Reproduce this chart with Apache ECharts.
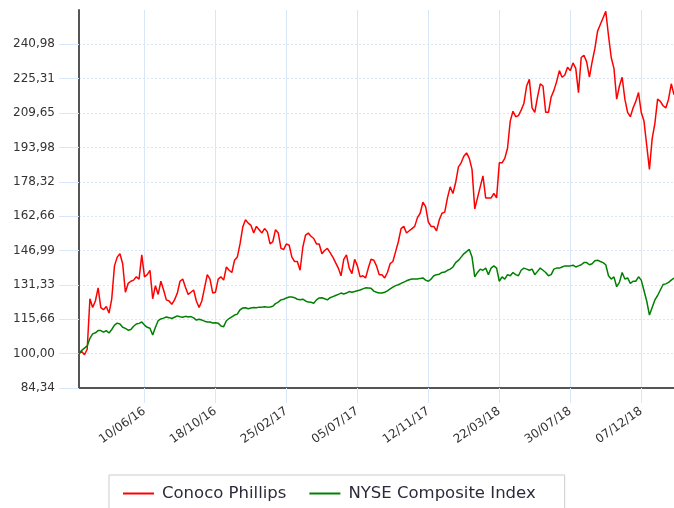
<!DOCTYPE html>
<html>
<head>
<meta charset="utf-8">
<script src="https://cdn.jsdelivr.net/npm/echarts@6/dist/echarts.min.js"></script>
<style>
  html, body { margin: 0; padding: 0; background: #fff; }
  #main { width: 674px; height: 508px; }
</style>
</head>
<body>
<div id="main"></div>
<script>
// series start 11/02/16, one point every 5 days
const startDay = Date.UTC(2016, 1, 11);
const stepDays = 5;

const xTickLabels = ['10/06/16', '18/10/16', '25/02/17', '05/07/17', '12/11/17', '22/03/18', '30/07/18', '07/12/18'];
const yTicks = [84.336, 100, 115.664, 131.328, 146.992, 162.656, 178.32, 193.984, 209.648, 225.312, 240.976];

const conoco = [
  100, 101, 99.5, 102, 125, 121, 124, 130, 121, 120,
  121.5, 118.5, 125, 140, 144, 145.5, 141, 128, 132, 133,
  133.5, 135, 134, 145, 135, 136, 138, 125, 131, 127,
  133, 129, 124.5, 124, 122.5, 124.5, 127.5, 133, 134, 130.3,
  127, 128, 129, 124, 121, 124, 130, 136, 134, 127.6,
  128, 134, 135, 133.5, 139.5, 138, 137, 142.6, 144, 150,
  157.7, 161, 159.5, 158.5, 155, 158, 156.5, 155, 157, 155.5,
  150, 151, 156.5, 155, 148, 147.5, 150, 149.4, 144, 142,
  142, 138, 148.5, 154, 155, 153.5, 152.5, 150, 150, 145.5,
  147, 148, 146, 144, 141.5, 139, 135.5, 143, 145, 139,
  136.5, 143, 140, 135, 135.5, 134.5, 139, 143, 142.6, 140,
  136, 136, 134.5, 137, 141, 142, 146.5, 151, 157, 158,
  155, 156, 157, 158, 162, 164, 169, 167, 160, 158,
  158, 156, 161, 164, 164.5, 171, 176, 173, 178, 185,
  187, 190, 191.5, 189, 184, 166, 171, 176, 181, 171,
  171, 171, 173, 171, 187, 187, 189, 193.6, 206, 210.5,
  208, 208.5, 211, 214, 222, 225, 212, 210, 217, 223,
  222, 210, 210, 217, 220, 224, 229, 226, 227, 230.5,
  229, 232.5, 230, 219, 235, 236, 233, 226, 233, 239,
  247, 250, 253, 256, 245, 235, 230, 216, 222, 226,
  216, 210, 208, 212, 215, 219, 210, 206, 195, 184,
  198, 205, 216, 215, 213, 212, 216, 223, 218
];

const nyse = [
  100, 101.5, 102.5, 103.5, 107, 109, 109.5, 110.5, 110.5, 109.8,
  110.5, 109.4, 111, 113, 113.9, 113.5, 112, 111.5, 110.7, 111,
  112.5, 113.5, 113.8, 114.4, 113, 112, 111.6, 108.5, 112, 115,
  115.8, 116.2, 116.7, 116.4, 116, 116.6, 117.2, 116.8, 116.6, 117,
  116.7, 116.9, 116.3, 115.3, 115.7, 115.3, 114.8, 114.4, 114.4, 114,
  114.1, 113.9, 112.6, 112.3, 115, 116, 116.8, 117.6, 118, 120,
  120.8, 120.9, 120.5, 120.8, 121, 120.9, 121.2, 121.2, 121.4, 121.2,
  121.3, 121.6, 122.8, 123.5, 124.5, 124.8, 125.4, 125.8, 125.8, 125.5,
  124.8, 124.6, 124.8, 124, 123.5, 123.4, 123, 124.5, 125.4, 125.5,
  125, 124.5, 125.5, 126, 126.5, 127, 127.6, 127.2, 127.6, 128.3,
  128, 128.3, 128.7, 129, 129.5, 130, 129.9, 129.8, 128.5, 128,
  127.6, 127.6, 128, 128.6, 129.5, 130.3, 131, 131.4, 132, 132.6,
  133.2, 133.7, 134, 134, 134, 134.3, 134.5, 133.5, 133, 134,
  135.5, 136, 136.2, 137, 137.2, 138, 138.5, 139.5, 141.5, 142.5,
  144, 145.5, 146.5, 147.5, 144, 135, 137, 138.5, 138, 139,
  136, 139, 140, 139, 133, 135, 134, 136, 135.5, 137,
  136, 135.5, 138, 139, 138.5, 138, 138.5, 136, 137.5, 139,
  138, 137, 135.5, 136, 138.5, 139, 139, 139.5, 140, 140,
  140, 140.3, 139.5, 140, 140.5, 141.5, 141.5, 140.5, 141, 142.3,
  142.6, 142, 141.5, 140.5, 135.5, 134, 135, 130.5, 132.5, 137,
  134, 134.5, 132, 133, 133, 135, 133.5, 128.8, 124, 117.6,
  121, 124.5, 126.5, 129, 131.5, 131.8, 132.5, 133.5, 134.4
];

function pad(n) { return (n < 10 ? '0' : '') + n; }

const dates = [];
for (let i = 0; i < conoco.length; i++) {
    const d = new Date(startDay + i * stepDays * 86400000);
    dates.push(pad(d.getUTCDate()) + '/' + pad(d.getUTCMonth() + 1) + '/' + String(d.getUTCFullYear()).slice(2));
}

const isTick = (idx, val) => xTickLabels.indexOf(dates[idx]) !== -1;

const gridBlue = '#d8e6f7';
const font = 'DejaVu Sans';

const chart = echarts.init(document.getElementById('main'));

chart.setOption({
    animation: false,
    grid: { left: 79, right: 0, top: 10, bottom: 120 },
    legend: {
        left: 109,
        top: 475,
        padding: [10, 29, 16, 14],
        borderColor: '#cccccc',
        borderWidth: 1,
        itemWidth: 31,
        itemHeight: 2,
        itemGap: 23,
        icon: 'rect',
        textStyle: { fontFamily: font, fontSize: 16.5, color: '#2b2b3b', padding: [0, 0, 0, 3] },
        data: ['Conoco Phillips', 'NYSE Composite Index']
    },
    xAxis: {
        type: 'category',
        boundaryGap: false,
        data: dates,
        axisLine: { lineStyle: { color: '#555555', width: 2 } },
        axisTick: { show: true, interval: isTick, length: 15, lineStyle: { color: gridBlue } },
        axisLabel: {
            interval: isTick,
            rotate: 35,
            margin: 22,
            fontFamily: font,
            fontSize: 12,
            color: '#333333'
        },
        splitLine: { show: true, interval: isTick, lineStyle: { color: gridBlue, width: 1 } }
    },
    yAxis: {
        type: 'value',
        min: 84.336,
        max: 256.64,
        axisLine: { show: true, lineStyle: { color: '#555555', width: 2 } },
        axisTick: { show: true, customValues: yTicks, length: 20, lineStyle: { color: gridBlue } },
        axisLabel: {
            customValues: yTicks,
            margin: 24,
            fontFamily: font,
            fontSize: 12,
            color: '#333333',
            formatter: v => v.toFixed(2).replace('.', ',')
        },
        splitLine: { show: true, lineStyle: { color: gridBlue, type: [2, 2] } }
    },
    series: [
        {
            name: 'Conoco Phillips',
            type: 'line',
            data: conoco,
            showSymbol: false,
            itemStyle: { color: '#ff0000' },
            lineStyle: { color: '#ff0000', width: 1.5 }
        },
        {
            name: 'NYSE Composite Index',
            type: 'line',
            data: nyse,
            showSymbol: false,
            itemStyle: { color: '#008000' },
            lineStyle: { color: '#008000', width: 1.5 }
        }
    ]
});
</script>
</body>
</html>
